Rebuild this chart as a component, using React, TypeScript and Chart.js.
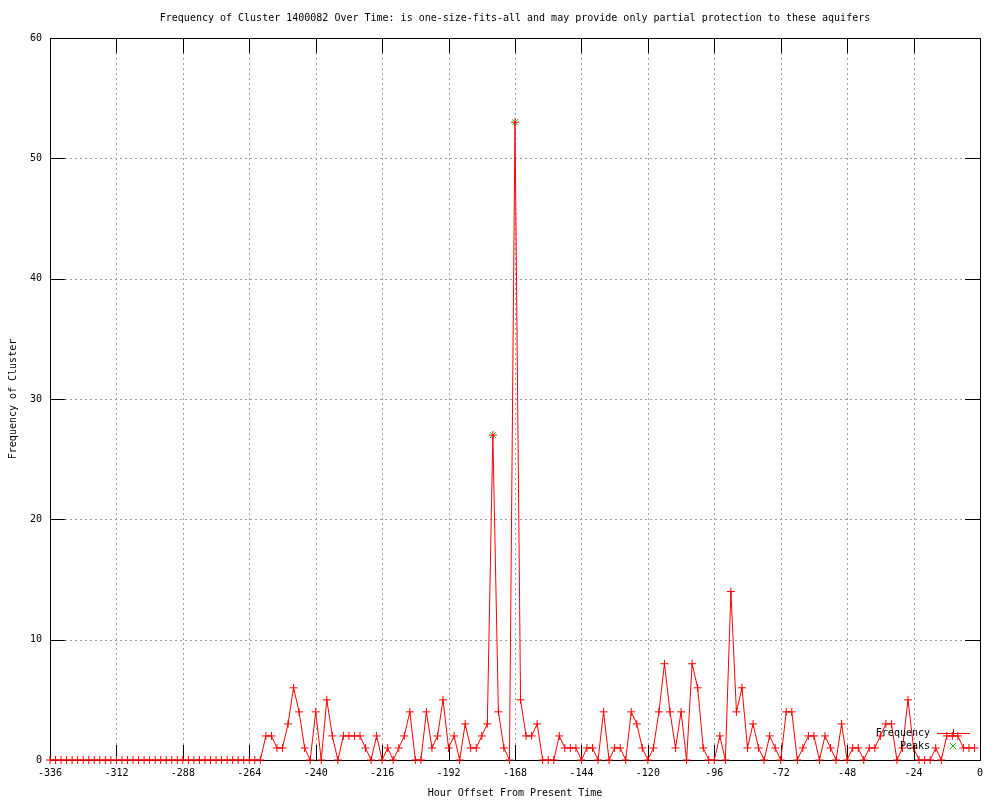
import React, { useEffect, useRef } from "react";
import { Chart, registerables } from "chart.js";

Chart.register(...registerables);

const hours = [
  -336, -334, -332, -330, -328, -326, -324, -322, -320, -318,
  -316, -314, -312, -310, -308, -306, -304, -302, -300, -298,
  -296, -294, -292, -290, -288, -286, -284, -282, -280, -278,
  -276, -274, -272, -270, -268, -266, -264, -262, -260, -258,
  -256, -254, -252, -250, -248, -246, -244, -242, -240, -238,
  -236, -234, -232, -230, -228, -226, -224, -222, -220, -218,
  -216, -214, -212, -210, -208, -206, -204, -202, -200, -198,
  -196, -194, -192, -190, -188, -186, -184, -182, -180, -178,
  -176, -174, -172, -170, -168, -166, -164, -162, -160, -158,
  -156, -154, -152, -150, -148, -146, -144, -142, -140, -138,
  -136, -134, -132, -130, -128, -126, -124, -122, -120, -118,
  -116, -114, -112, -110, -108, -106, -104, -102, -100, -98,
  -96, -94, -92, -90, -88, -86, -84, -82, -80, -78,
  -76, -74, -72, -70, -68, -66, -64, -62, -60, -58,
  -56, -54, -52, -50, -48, -46, -44, -42, -40, -38,
  -36, -34, -32, -30, -28, -26, -24, -22, -20, -18,
  -16, -14, -12, -10, -8, -6, -4, -2,
];

const frequency = [
  0, 0, 0, 0, 0, 0, 0, 0, 0, 0,
  0, 0, 0, 0, 0, 0, 0, 0, 0, 0,
  0, 0, 0, 0, 0, 0, 0, 0, 0, 0,
  0, 0, 0, 0, 0, 0, 0, 0, 0, 2,
  2, 1, 1, 3, 6, 4, 1, 0, 4, 0,
  5, 2, 0, 2, 2, 2, 2, 1, 0, 2,
  0, 1, 0, 1, 2, 4, 0, 0, 4, 1,
  2, 5, 1, 2, 0, 3, 1, 1, 2, 3,
  27, 4, 1, 0, 53, 5, 2, 2, 3, 0,
  0, 0, 2, 1, 1, 1, 0, 1, 1, 0,
  4, 0, 1, 1, 0, 4, 3, 1, 0, 1,
  4, 8, 4, 1, 4, 0, 8, 6, 1, 0,
  0, 2, 0, 14, 4, 6, 1, 3, 1, 0,
  2, 1, 0, 4, 4, 0, 1, 2, 2, 0,
  2, 1, 0, 3, 0, 1, 1, 0, 1, 1,
  2, 3, 3, 0, 1, 5, 1, 0, 0, 0,
  1, 0, 2, 2, 2, 1, 1, 1,
];

const peakHours = [-176, -168];
const peakValues = [27, 53];

const titleText =
  "Frequency of Cluster 1400082 Over Time: is one-size-fits-all and may provide only partial protection to these aquifers";
const xLabel = "Hour Offset From Present Time";
const yLabel = "Frequency of Cluster";
const seriesNames = ["Frequency", "Peaks"];

const FONT_FAMILY = '"DejaVu Sans Mono", monospace';
const RED = "#ff0000";
const GREEN = "#00c000";

const gnuplotFrame = {
  id: "gnuplotFrame",
  beforeDatasetsDraw(chart: any) {
    const { ctx, chartArea: a, scales } = chart;
    const x = scales.x;
    const y = scales.y;
    const tick = 15;
    ctx.save();
    ctx.lineWidth = 1;
    // grid
    ctx.strokeStyle = "#a0a0a0";
    ctx.setLineDash([2, 3]);
    ctx.beginPath();
    x.ticks.forEach((t: any) => {
      if (t.value <= x.min || t.value >= x.max) return;
      const px = Math.round(x.getPixelForValue(t.value)) + 0.5;
      ctx.moveTo(px, a.top);
      ctx.lineTo(px, a.bottom);
    });
    y.ticks.forEach((t: any) => {
      if (t.value <= y.min || t.value >= y.max) return;
      const py = Math.round(y.getPixelForValue(t.value)) + 0.5;
      ctx.moveTo(a.left, py);
      ctx.lineTo(a.right, py);
    });
    ctx.stroke();
    // tics and border
    ctx.setLineDash([]);
    ctx.strokeStyle = "#000";
    ctx.beginPath();
    x.ticks.forEach((t: any) => {
      const px = Math.round(x.getPixelForValue(t.value)) + 0.5;
      ctx.moveTo(px, a.bottom);
      ctx.lineTo(px, a.bottom - tick);
      ctx.moveTo(px, a.top);
      ctx.lineTo(px, a.top + tick);
    });
    y.ticks.forEach((t: any) => {
      const py = Math.round(y.getPixelForValue(t.value)) + 0.5;
      ctx.moveTo(a.left, py);
      ctx.lineTo(a.left + tick, py);
      ctx.moveTo(a.right, py);
      ctx.lineTo(a.right - tick, py);
    });
    ctx.stroke();
    ctx.strokeRect(Math.round(a.left) + 0.5, Math.round(a.top) + 0.5, Math.round(a.right - a.left), Math.round(a.bottom - a.top));
    ctx.restore();
  },
  afterDatasetsDraw(chart: any) {
    const { ctx, chartArea: a } = chart;
    const textX = a.right - 50;
    const sampleX0 = a.right - 43;
    const sampleX1 = a.right - 10;
    const markX = a.right - 27;
    const row1 = a.bottom - 27;
    const row2 = a.bottom - 14;
    ctx.save();
    ctx.font = `10px ${FONT_FAMILY}`;
    ctx.fillStyle = "#000";
    ctx.textAlign = "right";
    ctx.textBaseline = "middle";
    ctx.fillText(seriesNames[0], textX, row1);
    ctx.fillText(seriesNames[1], textX, row2);
    ctx.lineWidth = 1;
    ctx.strokeStyle = RED;
    ctx.beginPath();
    ctx.moveTo(sampleX0, row1 + 0.5);
    ctx.lineTo(sampleX1, row1 + 0.5);
    ctx.moveTo(markX + 0.5, row1 - 4);
    ctx.lineTo(markX + 0.5, row1 + 4);
    ctx.stroke();
    ctx.strokeStyle = GREEN;
    ctx.beginPath();
    ctx.moveTo(markX - 3, row2 - 3);
    ctx.lineTo(markX + 3, row2 + 3);
    ctx.moveTo(markX + 3, row2 - 3);
    ctx.lineTo(markX - 3, row2 + 3);
    ctx.stroke();
    ctx.restore();
  },
};

export default function App() {
  const ref = useRef<HTMLCanvasElement>(null);

  useEffect(() => {
    const font = { family: FONT_FAMILY, size: 10, weight: "normal" as const };
    const chart = new Chart(ref.current as HTMLCanvasElement, {
      type: "line",
      data: {
        datasets: [
          {
            label: seriesNames[0],
            data: hours.map((h, i) => ({ x: h, y: frequency[i] })),
            borderColor: RED,
            backgroundColor: RED,
            borderWidth: 1,
            pointStyle: "cross",
            pointRadius: 4,
            pointBorderWidth: 1,
            pointBorderColor: RED,
            tension: 0,
            clip: false,
          } as any,
          {
            label: seriesNames[1],
            data: peakHours.map((h, i) => ({ x: h, y: peakValues[i] })),
            showLine: false,
            borderColor: GREEN,
            backgroundColor: GREEN,
            pointStyle: "crossRot",
            pointRadius: 4,
            pointBorderWidth: 1,
            pointBorderColor: GREEN,
            clip: false,
          } as any,
        ],
      },
      options: {
        responsive: false,
        animation: false,
        devicePixelRatio: 1,
        layout: { padding: { left: 0, right: 20, top: 0, bottom: 0 } },
        plugins: {
          legend: { display: false },
          tooltip: { enabled: false },
          title: {
            display: true,
            text: titleText,
            fullSize: false,
            color: "#000",
            font,
            padding: { top: 12, bottom: 14 },
          },
        },
        scales: {
          x: {
            type: "linear",
            min: -336,
            max: 0,
            ticks: { stepSize: 24, maxRotation: 0, autoSkip: false, padding: 7, color: "#000", font },
            grid: { display: false, drawTicks: false },
            border: { display: false },
            title: { display: true, text: xLabel, color: "#000", font, padding: { top: 0, bottom: 1 } },
            afterFit: (s: any) => {
              s.height = 40;
            },
          },
          y: {
            type: "linear",
            min: 0,
            max: 60,
            ticks: { stepSize: 10, padding: 8, color: "#000", font },
            grid: { display: false, drawTicks: false },
            border: { display: false },
            title: { display: true, text: yLabel, color: "#000", font, padding: { top: 7, bottom: 0 } },
            afterFit: (s: any) => {
              s.width = 50;
            },
          },
        },
      } as any,
      plugins: [gnuplotFrame],
    });
    return () => chart.destroy();
  }, []);

  return (
    <div style={{ position: "absolute", left: 0, top: 0, width: 1000, height: 800, background: "#fff" }}>
      <canvas ref={ref} width={1000} height={800} style={{ display: "block", width: 1000, height: 800 }} />
    </div>
  );
}
